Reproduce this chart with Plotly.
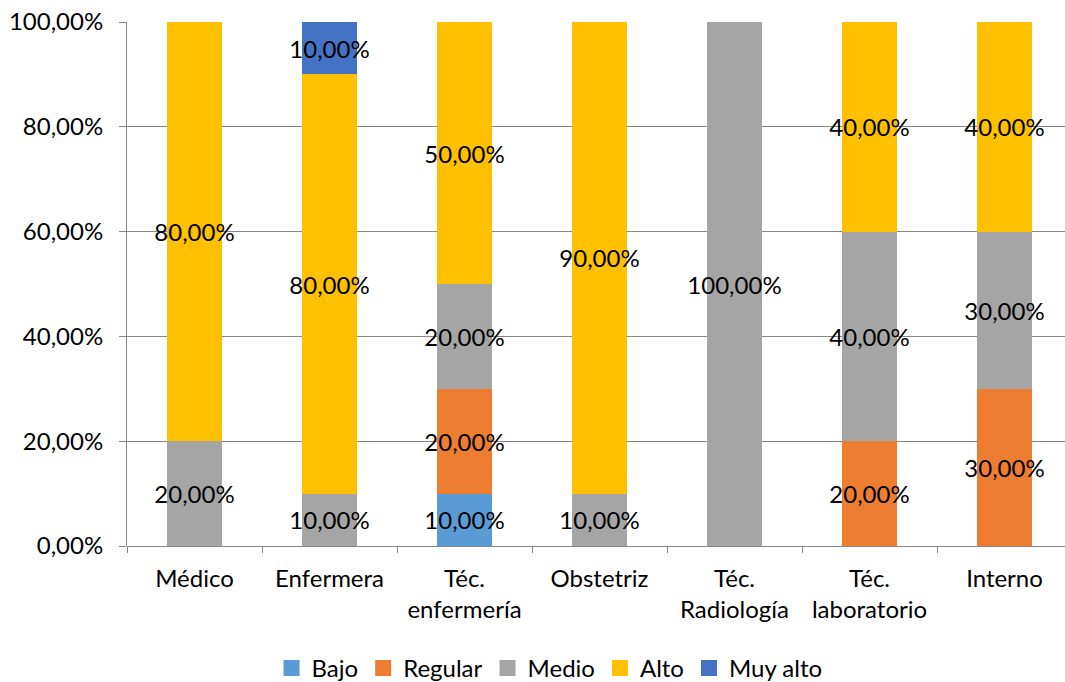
import plotly.graph_objects as go

# Professional groups on the x axis
categories = ["Médico", "Enfermera", "Téc.<br>enfermería", "Obstetriz",
              "Téc.<br>Radiología", "Téc.<br>laboratorio", "Interno"]

# Share (%) of each level per group
bajo = [0, 0, 10, 0, 0, 0, 0]
regular = [0, 0, 20, 0, 0, 20, 30]
medio = [20, 10, 20, 10, 100, 40, 30]
alto = [80, 80, 50, 90, 0, 40, 40]
muy_alto = [0, 10, 0, 0, 0, 0, 0]

series = [
    ("Bajo", bajo, "#5B9BD5"),
    ("Regular", regular, "#ED7D31"),
    ("Medio", medio, "#A5A5A5"),
    ("Alto", alto, "#FFC000"),
    ("Muy alto", muy_alto, "#4472C4"),
]

FONT = "Lato"
FS = 24

fig = go.Figure()
for name, vals, color in series:
    frac = [v / 100 for v in vals]
    fig.add_trace(go.Bar(
        name=name,
        x=categories,
        y=frac,
        marker=dict(color=color, line=dict(width=0)),
        width=0.41,
        text=[f"{v:.2f}".replace(".", ",") + "%" if v > 0 else "" for v in vals],
        textposition="inside",
        insidetextanchor="middle",
        textangle=0,
        constraintext="none",
        textfont=dict(family=FONT, size=FS, color="black"),
        hoverinfo="skip",
        showlegend=False,
    ))

# Legend keys drawn as square markers
for name, _, color in series:
    fig.add_trace(go.Scatter(
        name=name,
        x=[None], y=[None],
        mode="markers",
        marker=dict(symbol="square", size=16, color=color),
        hoverinfo="skip",
    ))

fig.update_layout(
    barmode="stack",
    width=1065,
    height=682,
    margin=dict(l=127, r=0, t=22, b=136),
    paper_bgcolor="white",
    plot_bgcolor="white",
    separators=",.",
    font=dict(family=FONT, size=FS, color="black"),
    uniformtext=dict(minsize=FS, mode="show"),
    showlegend=True,
    legend=dict(
        orientation="h",
        xref="container", yref="container",
        x=0.516, y=0.02,
        xanchor="center", yanchor="middle",
        font=dict(family=FONT, size=FS),
        traceorder="normal",
        itemwidth=30,
        tracegroupgap=0,
    ),
    xaxis=dict(
        type="category",
        range=[-0.5, 6.5 - 7 / 135],
        showgrid=False,
        showline=False,
        ticks="outside",
        tickson="boundaries",
        ticklen=6,
        tickcolor="#868686",
        ticklabelstandoff=16,
        tickfont=dict(family=FONT, size=FS),
    ),
    yaxis=dict(
        range=[0, 1],
        tickvals=[0, 0.2, 0.4, 0.6, 0.8, 1.0],
        tickformat=".2%",
        showgrid=True,
        gridcolor="#868686",
        gridwidth=1,
        zeroline=True,
        zerolinecolor="#868686",
        zerolinewidth=1,
        showline=True,
        linecolor="#868686",
        linewidth=1,
        ticks="outside",
        ticklen=7,
        tickcolor="#868686",
        ticklabelstandoff=11,
        tickfont=dict(family=FONT, size=FS),
    ),
)

fig.write_html("out.html")
